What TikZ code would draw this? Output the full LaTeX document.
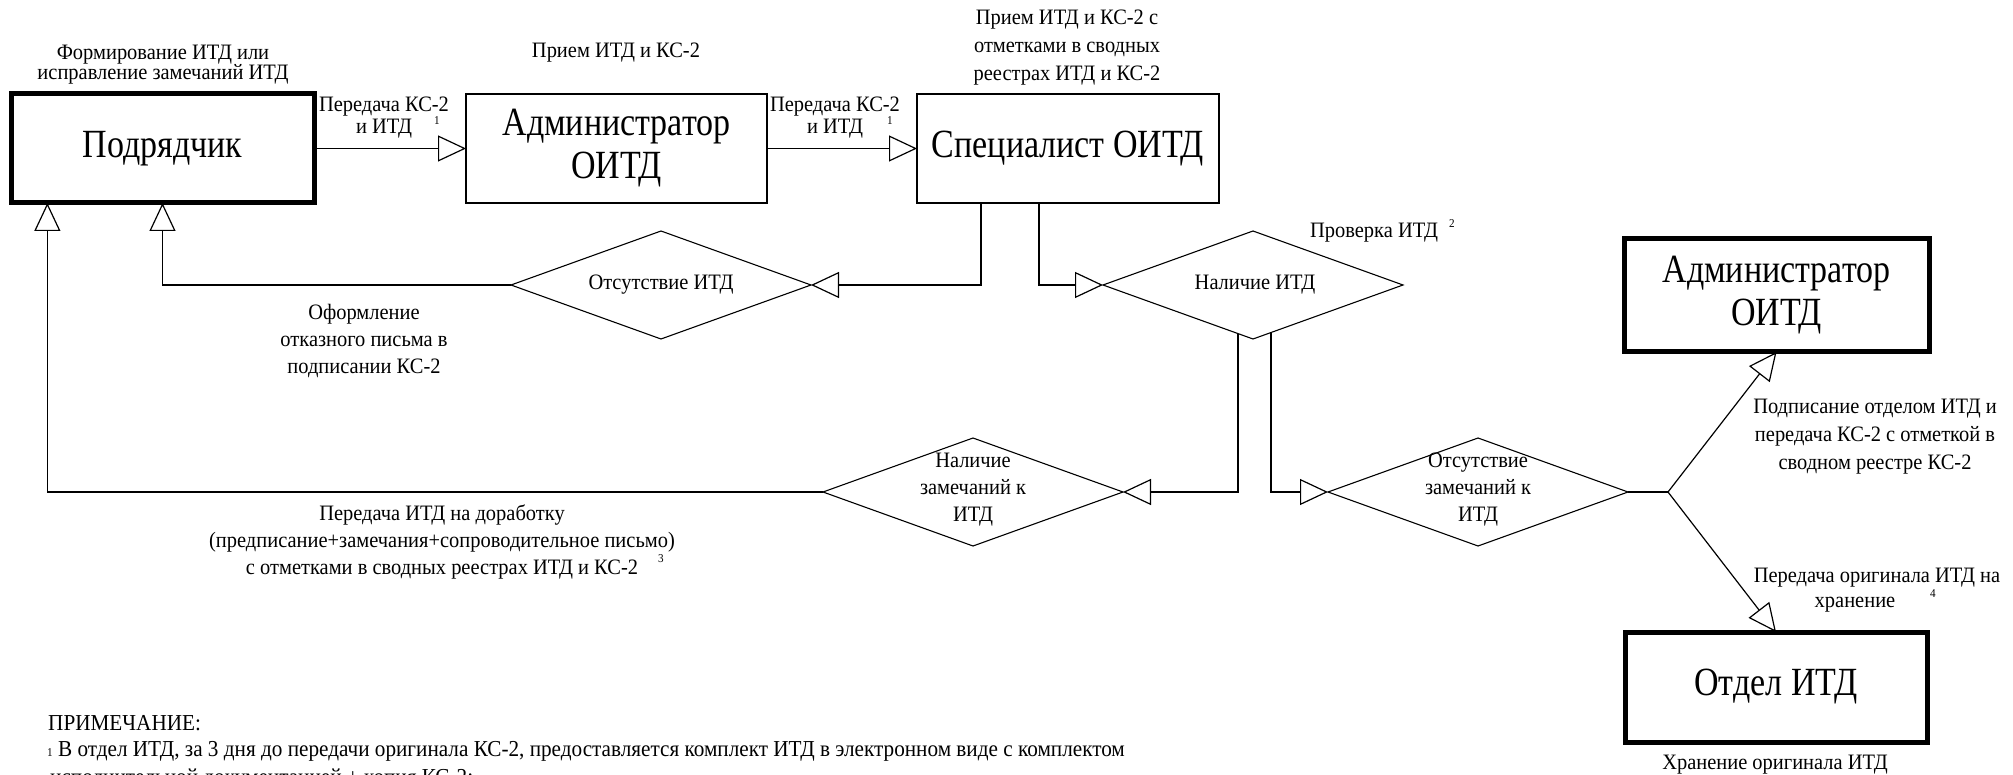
\documentclass[tikz,border=0pt]{standalone}
\usepackage{fontspec}
\setmainfont{Liberation Serif}[FakeStretch=0.93]
\newfontfamily\bigserif{Liberation Serif}[FakeStretch=0.85]
\usetikzlibrary{arrows.meta,shapes.geometric,calc}
\newcommand\fsz[2]{\fontsize{#1}{#2}\selectfont}
\begin{document}
\begin{tikzpicture}[x=1pt,y=-1pt,
  thickbox/.style={draw, line width=5pt, inner sep=0pt, outer sep=0pt, align=center, font=\bigserif\fsz{40}{43}},
  thinbox/.style={draw, line width=1.4pt, inner sep=0pt, outer sep=0pt, align=center, font=\bigserif\fsz{40}{43}},
  dia/.style={draw, shape=diamond, minimum width=300pt, minimum height=108pt, inner sep=0pt, outer sep=0pt, line width=1.1pt},
  conn/.style={line width=1.2pt, -{Triangle[open,length=28pt,width=26pt]}},
  plain/.style={line width=1.2pt},
  lab/.style={font=\fsz{22}{27}, align=center, inner sep=0pt},
  supl/.style={font=\fsz{12}{12}, inner sep=0pt},
  note/.style={font=\fsz{22.8}{28}, inner sep=0pt, anchor=base west}
]
\useasboundingbox (0,0) rectangle (2013,775);
\clip (0,0) rectangle (2013,775);
\fill[white] (0,0) rectangle (2013,775);

% boxes
\node[thickbox, minimum width=303pt, minimum height=109pt] (P) at (162.5,148.5) {Подрядчик};
\node[thinbox, minimum width=301pt, minimum height=109pt] (A1) at (616.5,148.5) {Администратор\\ОИТД};
\node[thinbox, minimum width=302pt, minimum height=109pt] (S) at (1068,148.5) {Специалист ОИТД};
\node[thickbox, minimum width=305pt, minimum height=113pt] (A2) at (1776.5,295.5) {Администратор\\ОИТД};
\node[thickbox, minimum width=302pt, minimum height=110pt] (O) at (1776,687) {Отдел ИТД};

% diamonds
\node[dia] (D1) at (661,285) {};
\node[dia] (D2) at (1253,285) {};
\node[dia] (D3) at (973,492) {};
\node[dia] (D4) at (1478,492) {};
\node[lab] (D1t) at (661,285) {Отсутствие ИТД};
\node[lab] (D2t) at (1255,285) {Наличие ИТД};
\node[lab] (D3t) at (973,490) {Наличие\\замечаний к\\ИТД};
\node[lab] (D4t) at (1478,490) {Отсутствие\\замечаний к\\ИТД};

% helper coordinates
\coordinate (s1) at ($(S.south west)!0.212!(S.south east)$);
\coordinate (s2) at ($(S.south west)!0.404!(S.south east)$);
\coordinate (p2) at ($(P.south west)!0.12!(P.south east)$);
\coordinate (d2a) at ($(D2.south)!0.1!(D2.west)$);
\coordinate (d2b) at ($(D2.south)!0.12!(D2.east)$);
\coordinate (F) at ($(D4.east)+(40,0)$);

% connectors
\draw[conn] (P.east) -- (A1.west);
\draw[conn] (A1.east) -- (S.west);
\draw[conn] (s1) |- (D1.east);
\draw[conn] (s2) |- (D2.west);
\draw[conn] (D1.west) -| (P.south);
\draw[conn] (d2a) |- (D3.east);
\draw[conn] (d2b) |- (D4.west);
\draw[conn] (D3.west) -| (p2);
\draw[plain] (D4.east) -- (F);
\draw[conn] (F) -- (A2.south);
\draw[conn] (F) -- (O.north);

% labels
\node[lab, font=\fsz{22}{20}] (Lform) at (163,65) {Формирование ИТД или\\исправление замечаний ИТД};
\node[lab] (Lpr1) at (616,53) {Прием ИТД и КС-2};
\node[lab, font=\fsz{22}{28}] (Lpr2) at (1067,48) {Прием ИТД и КС-2 с\\отметками в сводных\\реестрах ИТД и КС-2};
\node[lab, font=\fsz{22}{22}] (Lt1) at (384,118) {Передача КС-2\\и ИТД};
\node[supl] (Lt1s) at (437,121) {1};
\node[lab, font=\fsz{22}{22}] (Lt2) at (835,118) {Передача КС-2\\и ИТД};
\node[supl] (Lt2s) at (890,121) {1};
\node[lab] (Lprov) at (1374,233) {Проверка ИТД};
\node[supl] (Lprovs) at (1452,224) {2};
\node[lab] (Lof) at (364,341) {Оформление\\отказного письма в\\подписании КС-2};
\node[lab] (Lper) at (442,542) {Передача ИТД на доработку\\(предписание+замечания+сопроводительное письмо)\\с отметками в сводных реестрах ИТД и КС-2};
\node[supl] (Lpers) at (661,559) {3};
\node[lab, font=\fsz{22}{28}] (Lpod) at (1875,437) {Подписание отделом ИТД и\\передача КС-2 с отметкой в\\сводном реестре КС-2};
\node[lab, font=\fsz{22}{25}] (Lxr) at (1877,590) {Передача оригинала ИТД на\\хранение\hspace*{2em}};
\node[supl] (Lxrs) at (1933,594) {4};
\node[lab] (Lhr) at (1775,765) {Хранение оригинала ИТД};

% note
\node[note] (N0) at (48,730) {ПРИМЕЧАНИЕ:};
\node[note] (N1) at (47,756) {{\fsz{12}{12}1} В отдел ИТД, за 3 дня до передачи оригинала КС-2, предоставляется комплект ИТД в электронном виде с комплектом};
\node[note] (N2) at (50,784) {исполнительной документацией + копия КС-2;};
\end{tikzpicture}
\end{document}
